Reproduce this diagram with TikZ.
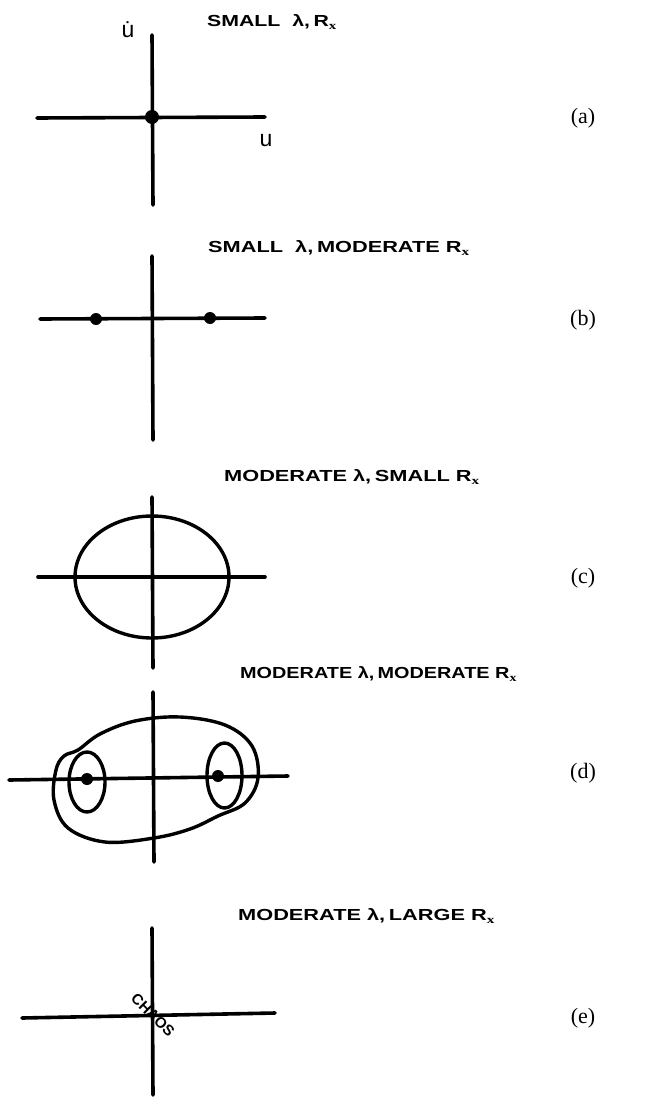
\documentclass[tikz,border=0pt]{standalone}
\usepackage{fontspec}
\setmainfont{Liberation Serif}
\setsansfont{Liberation Sans}
\begin{document}
\begin{tikzpicture}[x=1pt,y=-1pt,
  axis/.style={line width=3.6pt, line cap=round},
  orbit/.style={line width=3.4pt},
  fixpt/.style={circle, fill, inner sep=0pt, minimum size=12pt},
  ttl/.style={anchor=west, inner sep=0pt, font=\sffamily\bfseries\fontsize{16}{18}\selectfont},
  plabel/.style={inner sep=0pt, font=\fontsize{22}{25}\selectfont},
  axlabel/.style={inner sep=0pt, font=\sffamily\fontsize{23}{26}\selectfont}]
\useasboundingbox (0,0) rectangle (648,1110);

% ---------- (a) ----------
\coordinate (aT) at (152,35); \coordinate (aB) at (153,205);
\coordinate (aL) at (37,118); \coordinate (aR) at (265,117);
\draw[axis] (aT) -- (aB);
\draw[axis] (aL) -- (aR);
\node[fixpt, minimum size=14pt] (a0) at (152,117) {};
\node[axlabel] (audot) at (128,30) {\.u};
\node[axlabel] (au) at (266,141) {u};
\node[ttl] (ta) at (207,22) {\scalebox{1.33}[1]{SMALL\ \ λ,\,R$_{\mathbf x}$}};
\node[plabel] (la) at (583,118) {(a)};

% ---------- (b) ----------
\coordinate (bT) at (152,256); \coordinate (bB) at (153,440);
\coordinate (bL) at (40,319); \coordinate (bR) at (265,318);
\draw[axis] (bT) -- (bB);
\draw[axis] (bL) -- (bR);
\node[fixpt] (b1) at (96,319) {};
\node[fixpt] (b2) at (210,318) {};
\node[ttl] (tb) at (208,248) {\scalebox{1.36}[1]{SMALL\ \ λ,\,MODERATE R$_{\mathbf x}$}};
\node[plabel] (lb) at (583,320) {(b)};

% ---------- (c) ----------
\coordinate (cT) at (152,497); \coordinate (cB) at (153,668);
\coordinate (cL) at (38,577); \coordinate (cR) at (265,577);
\draw[axis] (cT) -- (cB);
\draw[axis] (cL) -- (cR);
\draw[orbit] (152,577) ellipse [x radius=77, y radius=61];
\node[ttl] (tc) at (224,477) {\scalebox{1.36}[1]{MODERATE λ,\,SMALL R$_{\mathbf x}$}};
\node[plabel] (lc) at (583,578) {(c)};

% ---------- (d) ----------
\coordinate (dT) at (153,692); \coordinate (dB) at (154,862);
\coordinate (dL) at (9,780); \coordinate (dR) at (288,776);
\draw[axis] (dT) -- (dB);
\draw[axis] (dL) -- (dR);
\draw[orbit] plot[smooth cycle, tension=0.6] coordinates {
  (78,750) (100,734) (135,721) (180,717) (225,725) (252,746) (258,778)
  (245,803) (218,816) (190,829) (154,838) (105,842) (68,828) (54,800)
  (56,770) (64,756)};
\draw[orbit] (87,782) ellipse [x radius=18, y radius=30];
\draw[orbit] (224.5,775.5) ellipse [x radius=17.5, y radius=32.5];
\node[fixpt] (d1) at (87,779) {};
\node[fixpt] (d2) at (218,776) {};
\node[ttl] (td) at (240,674) {\scalebox{1.24}[1]{MODERATE λ,\,MODERATE R$_{\mathbf x}$}};
\node[plabel] (ld) at (583,773) {(d)};

% ---------- (e) ----------
\coordinate (eT) at (152,928); \coordinate (eB) at (153,1095);
\coordinate (eL) at (22,1018); \coordinate (eR) at (275,1013);
\draw[axis] (eT) -- (eB);
\draw[axis] (eL) -- (eR);
\node[inner sep=0pt, rotate=-45, font=\sffamily\bfseries\fontsize{15}{17}\selectfont] (chaos) at (153,1015) {CHAOS};
\node[ttl] (te) at (238,916) {\scalebox{1.36}[1]{MODERATE λ,\,LARGE R$_{\mathbf x}$}};
\node[plabel] (le) at (583,1018) {(e)};
\end{tikzpicture}
\end{document}
